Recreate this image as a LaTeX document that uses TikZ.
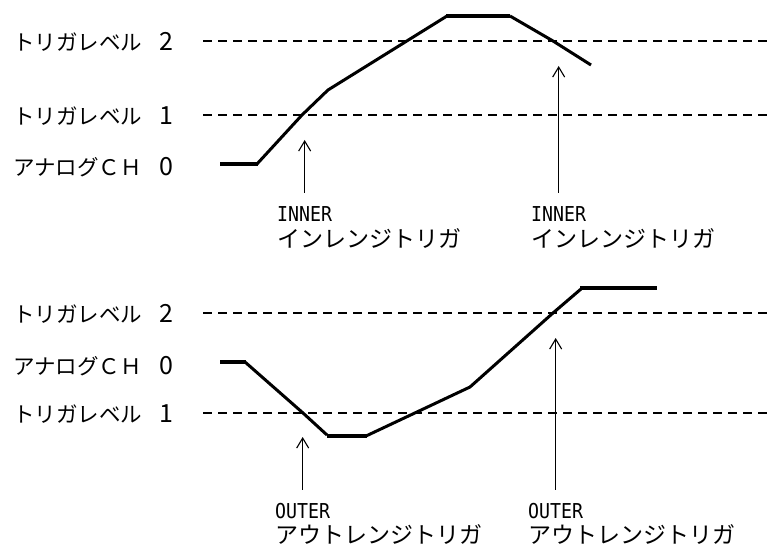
\documentclass[tikz,border=0pt]{standalone}
\usepackage{fontspec}
\setmainfont{Noto Sans CJK JP}
\newfontfamily\latinmono{DejaVu Sans Mono}
\usetikzlibrary{arrows.meta}
\newcommand\trgname[1]{\scalebox{0.89}[1]{\latinmono\fontsize{20.5}{22}\selectfont #1}}
\newcommand\lvltext[2]{\hbox to 160pt{#1\hfill{\fontsize{25}{25}\selectfont #2}}}

\begin{document}
\begin{tikzpicture}[x=1pt,y=-1pt,
  lvl/.style={line width=1.5pt,dash pattern=on 9pt off 6pt},
  sig/.style={line width=3pt,line join=round},
  flat/.style={line width=4.5pt},
  trg/.style={line width=1.1pt,-{Straight Barb[length=10pt,width=12pt]}},
  lbl/.style={anchor=west,inner sep=0pt,font=\fontsize{21.5}{24}\selectfont},
  trgkind/.style={anchor=base west,inner sep=0pt,text depth=0pt},
  trgtext/.style={anchor=base west,inner sep=0pt,text height=18pt,text depth=1pt,
    font=\fontsize{23}{24}\selectfont}]
\useasboundingbox (0,0) rectangle (767,545);
% upper panel: inner range
\node[lbl] (u2) at (13,42) {\lvltext{トリガレベル}{2}};
\node[lbl] (u1) at (13,116) {\lvltext{トリガレベル}{1}};
\node[lbl] (u0) at (13,167) {\lvltext{アナログＣＨ}{0}};
\draw[lvl] (203,41) -- (767,41);
\draw[lvl] (203,115) -- (767,115);
\draw[flat] (220,164) -- (258,164);
\draw[sig] (257,164) -- (302,115) -- (328,90) -- (447,16);
\draw[flat] (446,16) -- (510,16);
\draw[sig] (510,16) -- (553,41) -- (591,65);
\node[trgkind] (ia) at (277,222) {\trgname{INNER}};
\node[trgtext] (ja) at (277,247) {インレンジトリガ};
\node[trgkind] (ib) at (531,222) {\trgname{INNER}};
\node[trgtext] (jb) at (531,247) {インレンジトリガ};
\coordinate (ua) at (303,140);
\coordinate (ub) at (558,66);
\draw[trg] (ia.north) ++(0,-14) -- (ia.north |- ua);
\draw[trg] (ib.north) ++(0,-14) -- (ib.north |- ub);
% lower panel: outer range
\node[lbl] (l2) at (13,314) {\lvltext{トリガレベル}{2}};
\node[lbl] (l0) at (13,366) {\lvltext{アナログＣＨ}{0}};
\node[lbl] (l1) at (13,414) {\lvltext{トリガレベル}{1}};
\draw[lvl] (203,313) -- (767,313);
\draw[lvl] (203,413) -- (767,413);
\draw[flat] (220,362) -- (246,362);
\draw[sig] (245,362) -- (303,413) -- (327,435);
\draw[flat] (327,436) -- (367,436);
\draw[sig] (366,436) -- (470,387) -- (553,313) -- (581,289);
\draw[flat] (580,288) -- (657,288);
\node[trgkind] (oa) at (275,518) {\trgname{OUTER}};
\node[trgtext] (ka) at (275,543) {アウトレンジトリガ};
\node[trgkind] (ob) at (528,518) {\trgname{OUTER}};
\node[trgtext] (kb) at (528,543) {アウトレンジトリガ};
\coordinate (la) at (303,437);
\coordinate (lb) at (558,338);
\draw[trg] (oa.north) ++(0,-13) -- (oa.north |- la);
\draw[trg] (ob.north) ++(0,-13) -- (ob.north |- lb);
\end{tikzpicture}
\end{document}
